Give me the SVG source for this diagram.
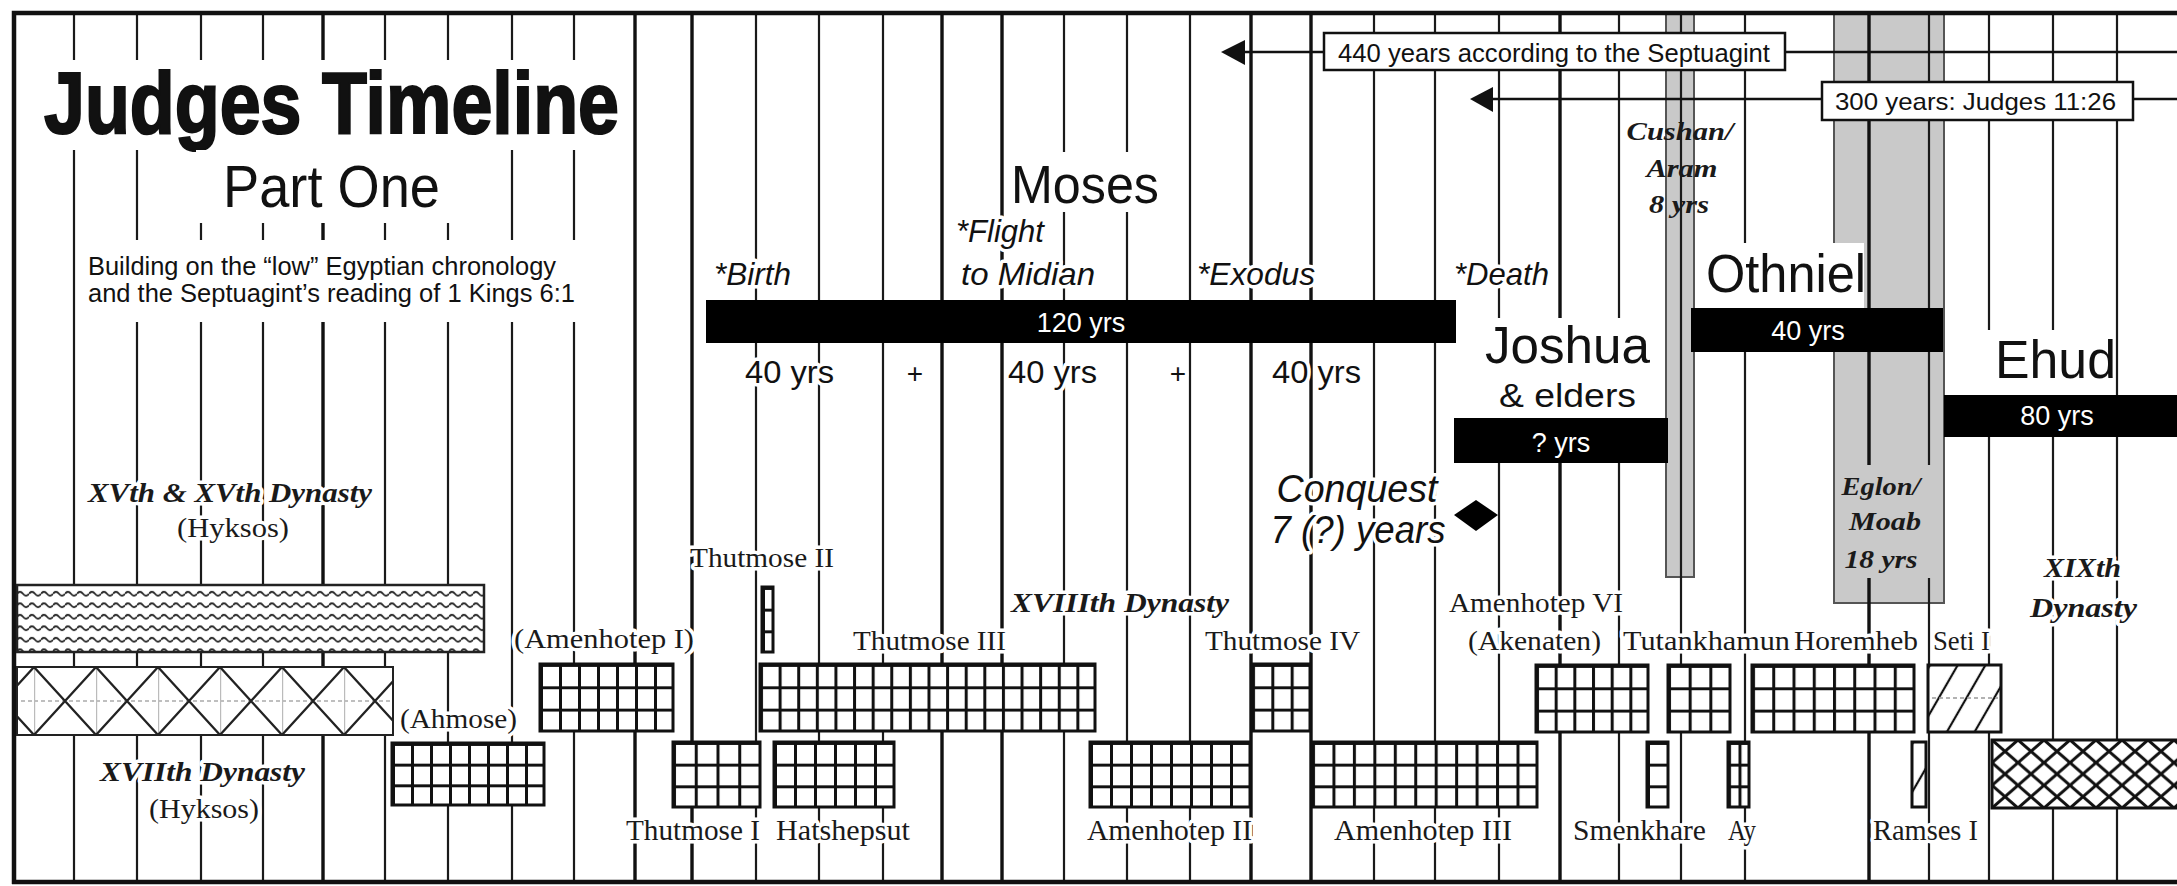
<svg xmlns="http://www.w3.org/2000/svg" width="2177" height="886" viewBox="0 0 2177 886">
<defs>
<style>
.sans{font-family:"Liberation Sans",Arial,sans-serif;fill:#111}
.serif{font-family:"Liberation Serif","Times New Roman",serif;fill:#1a1a1a}
.it{font-style:italic}
.b{font-weight:bold}
.halo{paint-order:stroke;stroke:#fff;stroke-width:7;stroke-linejoin:round}
.wt{fill:#fff;font-family:"Liberation Sans",Arial,sans-serif;font-size:27px;text-anchor:middle}
.grid{stroke:#1a1a1a;stroke-width:2.2;fill:none}
.gridt{stroke:#111;stroke-width:3.4;fill:none}
.box{stroke:#111;stroke-width:3}
.bg{fill:#fff}
.band{fill:#c9c9c9;stroke:#555;stroke-width:2}
.bar{fill:#000}
.lbl{fill:#fff;stroke:#111;stroke-width:2.5}
.ln{stroke:#111;stroke-width:2.5;fill:none}
</style>
<pattern id="grid" patternUnits="userSpaceOnUse" width="20" height="22"><rect width="400" height="400" fill="#fff"/><path d="M1.5 0V400M0 1.5H400" stroke="#111" stroke-width="3"/></pattern>
<pattern id="pT2" href="#grid" x="762" y="587" width="11" height="21.67"/>
<pattern id="pAm1" href="#grid" x="540" y="664" width="19" height="22.33"/>
<pattern id="pT3" href="#grid" x="760" y="664" width="18.61" height="22.33"/>
<pattern id="pT4" href="#grid" x="1252" y="664" width="19.33" height="22.33"/>
<pattern id="pAm6" href="#grid" x="1536" y="665" width="18.67" height="22.33"/>
<pattern id="pTut" href="#grid" x="1668" y="665" width="20.67" height="22.33"/>
<pattern id="pHor" href="#grid" x="1752" y="665" width="20.25" height="22.33"/>
<pattern id="pAh" href="#grid" x="392" y="743" width="19" height="20.67"/>
<pattern id="pT1" href="#grid" x="673" y="742" width="21.75" height="21.67"/>
<pattern id="pHat" href="#grid" x="774" y="742" width="20" height="21.67"/>
<pattern id="pAm2" href="#grid" x="1090" y="742" width="20" height="21.67"/>
<pattern id="pAm3" href="#grid" x="1312" y="742" width="20.45" height="21.67"/>
<pattern id="pSm" href="#grid" x="1647" y="742" width="21" height="21.67"/>
<pattern id="pAy" href="#grid" x="1728" y="742" width="10.5" height="21.67"/>
<pattern id="xd" patternUnits="userSpaceOnUse" x="34" y="667" width="62" height="68"><rect width="62" height="68" fill="#fff"/><path d="M0 34H62" stroke="#aaa" stroke-width="1.5" stroke-dasharray="4 3"/><path d="M0.6 0V68" stroke="#bbb" stroke-width="1.2"/><path d="M0 0L62 68M62 0L0 68" stroke="#222" stroke-width="2.2"/></pattern>
<pattern id="wv" patternUnits="userSpaceOnUse" x="17" y="588" width="12" height="11.5"><rect width="12" height="11.5" fill="#fff"/><path d="M0 5.75Q3 2 6 5.75T12 5.75" fill="none" stroke="#222" stroke-width="1.8"/></pattern>
<pattern id="hatch" patternUnits="userSpaceOnUse" width="24" height="24" patternTransform="rotate(30)"><rect width="24" height="24" fill="#fff"/><path d="M12 0V24" stroke="#111" stroke-width="2.2"/></pattern>
<pattern id="xh" patternUnits="userSpaceOnUse" x="1992" y="740" width="26" height="22.67"><rect width="26" height="22.67" fill="#fff"/><path d="M0 0L26 22.67M26 0L0 22.67" stroke="#111" stroke-width="3"/></pattern>
</defs>
<rect width="2177" height="886" fill="#fff"/>

<g id="bands">
<rect id="cushan-band" class="band" x="1666" y="14" width="28" height="563"/>
<rect id="eglon-band" class="band" x="1834" y="14" width="110" height="589"/>
</g>

<g id="connectors">
<path class="grid" d="M74 14V882M137 14V882M201 14V882M263 14V882M385 14V882M448 14V882M512 14V882M574 14V882M756 14V882M819 14V882M883 14V882M1064 14V882M1127 14V882M1190 14V882M1374 14V882M1435 14V882M1499 14V882M1619 14V882M1681 14V882M1745 14V882M1929 14V882M1989 14V882M2053 14V882M2117 14V882"/>
<path class="gridt" d="M323 14V882M635 14V882M692 14V882M942 14V882M1002 14V882M1251 14V882M1311 14V882M1560 14V882M1869 14V882"/>
<path d="M14 884V13H2177M12 882H2177" fill="none" stroke="#111" stroke-width="4.5"/>
<rect x="1838" y="465" width="104" height="113" fill="#c9c9c9"/>
<path class="ln" d="M1240 52H1324M1785 52H2177"/>
<polygon points="1221,52 1245,40 1245,65" fill="#111"/>
<path class="ln" d="M1490 99H1822M2133 99H2177"/>
<polygon points="1470,99 1493,87 1493,112" fill="#111"/>
</g>

<g id="title">
<rect class="bg" x="40" y="60" width="584" height="90"/>
<text class="sans b" x="44" y="133" font-size="88" stroke="#111" stroke-width="2.2" textLength="575" lengthAdjust="spacingAndGlyphs">Judges Timeline</text>
<rect class="bg" x="196" y="150" width="259" height="73"/>
<text class="sans" x="223" y="207" font-size="60" textLength="217" lengthAdjust="spacingAndGlyphs">Part One</text>
<rect class="bg" x="78" y="240" width="502" height="82"/>
<text class="sans" x="88" y="275" font-size="25" fill="#222" textLength="468" lengthAdjust="spacingAndGlyphs">Building on the “low” Egyptian chronology</text>
<text class="sans" x="88" y="302" font-size="25" fill="#222" textLength="487" lengthAdjust="spacingAndGlyphs">and the Septuagint’s reading of 1 Kings 6:1</text>
</g>

<g id="span-440">
<rect class="lbl" x="1324" y="33" width="461" height="37"/>
<text class="sans" x="1338" y="62" font-size="25" textLength="432" lengthAdjust="spacingAndGlyphs">440 years according to the Septuagint</text>
</g>
<g id="span-300">
<rect class="lbl" x="1822" y="82" width="311" height="38"/>
<text class="sans" x="1835" y="110" font-size="24" textLength="281" lengthAdjust="spacingAndGlyphs">300 years: Judges 11:26</text>
</g>

<g id="moses">
<rect class="bg" x="1005" y="152" width="160" height="60"/>
<text class="sans" x="1011" y="203" font-size="53" textLength="148" lengthAdjust="spacingAndGlyphs">Moses</text>
<text class="sans it halo" stroke-width="5" x="714" y="285" font-size="32" textLength="77" lengthAdjust="spacingAndGlyphs">*Birth</text>
<text class="sans it halo" stroke-width="5" x="956" y="242" font-size="32" textLength="88" lengthAdjust="spacingAndGlyphs">*Flight</text>
<text class="sans it halo" stroke-width="5" x="961" y="285" font-size="32" textLength="134" lengthAdjust="spacingAndGlyphs">to Midian</text>
<text class="sans it halo" stroke-width="5" x="1197" y="285" font-size="32" textLength="118" lengthAdjust="spacingAndGlyphs">*Exodus</text>
<text class="sans it halo" stroke-width="5" x="1454" y="285" font-size="32" textLength="95" lengthAdjust="spacingAndGlyphs">*Death</text>
<rect class="bar" x="706" y="300" width="750" height="43"/>
<text class="wt" x="1081" y="332">120 yrs</text>
<text class="sans halo" stroke-width="5" x="745" y="383" font-size="32" textLength="89" lengthAdjust="spacingAndGlyphs">40 yrs</text>
<text class="sans halo" stroke-width="5" x="915" y="383" font-size="28" text-anchor="middle">+</text>
<text class="sans halo" stroke-width="5" x="1008" y="383" font-size="32" textLength="89" lengthAdjust="spacingAndGlyphs">40 yrs</text>
<text class="sans halo" stroke-width="5" x="1178" y="383" font-size="28" text-anchor="middle">+</text>
<text class="sans halo" stroke-width="5" x="1272" y="383" font-size="32" textLength="89" lengthAdjust="spacingAndGlyphs">40 yrs</text>
</g>

<g id="joshua">
<rect class="bg" x="1480" y="318" width="176" height="100"/>
<text class="sans" x="1485" y="363" font-size="52" textLength="165" lengthAdjust="spacingAndGlyphs">Joshua</text>
<text class="sans" x="1499" y="407" font-size="34" textLength="137" lengthAdjust="spacingAndGlyphs">&amp; elders</text>
<rect class="bar" x="1454" y="418" width="214" height="45"/>
<text class="wt" x="1561" y="452">? yrs</text>
</g>

<g id="conquest">
<text class="sans it halo" x="1357" y="502" font-size="38" text-anchor="middle" textLength="161" lengthAdjust="spacingAndGlyphs">Conquest</text>
<text class="sans it halo" x="1358" y="543" font-size="38" text-anchor="middle" textLength="175" lengthAdjust="spacingAndGlyphs">7 (?) years</text>
<polygon points="1454,515 1476,500 1498,515 1476,531" fill="#000"/>
</g>

<g id="cushan">
<text class="serif it b" x="1680" y="140" font-size="25" fill="#333" text-anchor="middle" textLength="107" lengthAdjust="spacingAndGlyphs">Cushan/</text>
<text class="serif it b" x="1682" y="177" font-size="25" fill="#333" text-anchor="middle" textLength="71" lengthAdjust="spacingAndGlyphs">Aram</text>
<text class="serif it b" x="1679" y="213" font-size="25" fill="#333" text-anchor="middle" textLength="60" lengthAdjust="spacingAndGlyphs">8 yrs</text>
</g>

<g id="othniel">
<rect class="bg" x="1698" y="243" width="166" height="65"/>
<text class="sans" x="1706" y="292" font-size="53" textLength="160" lengthAdjust="spacingAndGlyphs">Othniel</text>
<rect class="bar" x="1691" y="308" width="252" height="44"/>
<text class="wt" x="1808" y="340">40 yrs</text>
</g>

<g id="eglon">
<text class="serif it b" x="1881" y="495" font-size="26" text-anchor="middle" textLength="79" lengthAdjust="spacingAndGlyphs">Eglon/</text>
<text class="serif it b" x="1885" y="530" font-size="26" text-anchor="middle" textLength="72" lengthAdjust="spacingAndGlyphs">Moab</text>
<text class="serif it b" x="1881" y="568" font-size="26" text-anchor="middle" textLength="73" lengthAdjust="spacingAndGlyphs">18 yrs</text>
</g>

<g id="ehud">
<rect class="bg" x="1984" y="330" width="130" height="65"/>
<text class="sans" x="1995" y="378" font-size="53" textLength="121" lengthAdjust="spacingAndGlyphs">Ehud</text>
<rect class="bar" x="1944" y="395" width="233" height="42"/>
<text class="wt" x="2057" y="425">80 yrs</text>
</g>

<g id="hyksos-15-16">
<text class="serif it b halo" x="88" y="502" font-size="28" textLength="284" lengthAdjust="spacingAndGlyphs">XVth &amp; XVth Dynasty</text>
<text class="serif halo" x="177" y="537" font-size="28" textLength="112" lengthAdjust="spacingAndGlyphs">(Hyksos)</text>
<rect x="17" y="585" width="467" height="67" fill="url(#wv)" stroke="#222" stroke-width="2.5"/>
</g>

<g id="hyksos-17">
<rect x="17" y="667" width="376" height="68" fill="url(#xd)" stroke="#222" stroke-width="2"/>
<text class="serif it b halo" x="100" y="781" font-size="28" textLength="205" lengthAdjust="spacingAndGlyphs">XVIIth Dynasty</text>
<text class="serif halo" x="149" y="818" font-size="28" textLength="110" lengthAdjust="spacingAndGlyphs">(Hyksos)</text>
</g>

<g id="ahmose">
<text class="serif halo" x="400" y="728" font-size="28" textLength="117" lengthAdjust="spacingAndGlyphs">(Ahmose)</text>
<rect class="box" x="392" y="743" width="152" height="62" fill="url(#pAh)"/>
</g>
<g id="amenhotep1">
<text class="serif halo" x="514" y="648" font-size="28" textLength="180" lengthAdjust="spacingAndGlyphs">(Amenhotep I)</text>
<rect class="box" x="540" y="664" width="133" height="67" fill="url(#pAm1)"/>
</g>
<g id="thutmose1">
<rect class="box" x="673" y="742" width="87" height="65" fill="url(#pT1)"/>
<text class="serif halo" x="626" y="840" font-size="29" textLength="134" lengthAdjust="spacingAndGlyphs">Thutmose I</text>
</g>
<g id="thutmose2">
<text class="serif halo" x="690" y="567" font-size="28" textLength="144" lengthAdjust="spacingAndGlyphs">Thutmose II</text>
<rect class="box" x="762" y="587" width="11" height="65" fill="url(#pT2)" stroke-width="2.5"/>
</g>
<g id="hatshepsut">
<rect class="box" x="774" y="742" width="120" height="65" fill="url(#pHat)"/>
<text class="serif halo" x="776" y="840" font-size="29" textLength="134" lengthAdjust="spacingAndGlyphs">Hatshepsut</text>
</g>
<g id="thutmose3">
<text class="serif halo" x="853" y="650" font-size="28" textLength="153" lengthAdjust="spacingAndGlyphs">Thutmose III</text>
<rect class="box" x="760" y="664" width="335" height="67" fill="url(#pT3)"/>
</g>
<g id="dynasty18">
<text class="serif it b halo" x="1011" y="612" font-size="28" textLength="218" lengthAdjust="spacingAndGlyphs">XVIIIth Dynasty</text>
</g>
<g id="amenhotep2">
<rect class="box" x="1090" y="742" width="160" height="65" fill="url(#pAm2)"/>
<text class="serif halo" x="1087" y="840" font-size="29" textLength="165" lengthAdjust="spacingAndGlyphs">Amenhotep II</text>
</g>
<g id="thutmose4">
<text class="serif halo" x="1205" y="650" font-size="28" textLength="155" lengthAdjust="spacingAndGlyphs">Thutmose IV</text>
<rect class="box" x="1252" y="664" width="58" height="67" fill="url(#pT4)"/>
</g>
<g id="amenhotep3">
<rect class="box" x="1312" y="742" width="225" height="65" fill="url(#pAm3)"/>
<text class="serif halo" x="1334" y="840" font-size="29" textLength="178" lengthAdjust="spacingAndGlyphs">Amenhotep III</text>
</g>
<g id="amenhotep6">
<text class="serif halo" x="1449" y="612" font-size="28" textLength="174" lengthAdjust="spacingAndGlyphs">Amenhotep VI</text>
<text class="serif halo" x="1468" y="650" font-size="28" textLength="133" lengthAdjust="spacingAndGlyphs">(Akenaten)</text>
<rect class="box" x="1536" y="665" width="112" height="67" fill="url(#pAm6)"/>
</g>
<g id="smenkhare">
<rect class="box" x="1647" y="742" width="21" height="65" fill="url(#pSm)" stroke-width="2.5"/>
<text class="serif halo" x="1573" y="840" font-size="29" textLength="133" lengthAdjust="spacingAndGlyphs">Smenkhare</text>
</g>
<g id="tutankhamun">
<text class="serif halo" x="1623" y="650" font-size="28" textLength="167" lengthAdjust="spacingAndGlyphs">Tutankhamun</text>
<rect class="box" x="1668" y="665" width="62" height="67" fill="url(#pTut)"/>
</g>
<g id="ay">
<rect class="box" x="1728" y="742" width="21" height="65" fill="url(#pAy)" stroke-width="2.5"/>
<text class="serif halo" x="1728" y="840" font-size="29" textLength="28" lengthAdjust="spacingAndGlyphs">Ay</text>
</g>
<g id="horemheb">
<text class="serif halo" x="1794" y="650" font-size="28" textLength="124" lengthAdjust="spacingAndGlyphs">Horemheb</text>
<rect class="box" x="1752" y="665" width="162" height="67" fill="url(#pHor)"/>
</g>
<g id="seti1">
<text class="serif halo" x="1933" y="650" font-size="28" textLength="57" lengthAdjust="spacingAndGlyphs">Seti I</text>
<rect class="box" x="1928" y="665" width="73" height="67" fill="url(#hatch)" stroke-width="2.5"/>
<path d="M1932 698H1998" stroke="#999" stroke-width="1.5" stroke-dasharray="4 3"/>
</g>
<g id="ramses1">
<rect class="box" x="1912" y="742" width="14" height="65" fill="url(#hatch)" stroke-width="2.5"/>
<text class="serif halo" x="1873" y="840" font-size="29" textLength="105" lengthAdjust="spacingAndGlyphs">Ramses I</text>
</g>
<g id="dynasty19">
<text class="serif it b halo" x="2044" y="577" font-size="28" textLength="77" lengthAdjust="spacingAndGlyphs">XIXth</text>
<text class="serif it b halo" x="2030" y="617" font-size="28" textLength="107" lengthAdjust="spacingAndGlyphs">Dynasty</text>
<rect x="1992" y="740" width="190" height="68" fill="url(#xh)" stroke="#111" stroke-width="3"/>
</g>
</svg>
